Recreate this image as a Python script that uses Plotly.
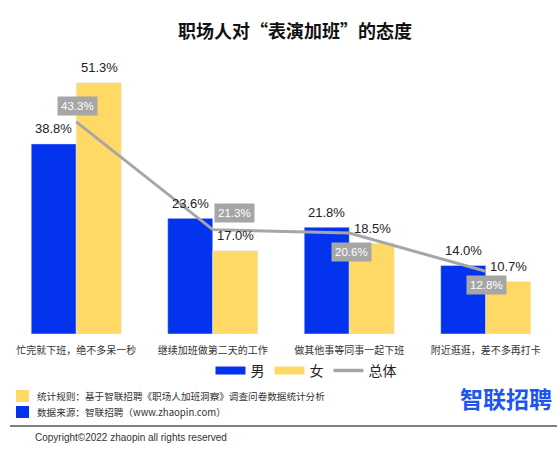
import plotly.graph_objects as go

categories = ["忙完就下班，绝不多呆一秒", "继续加班做第二天的工作", "做其他事等同事一起下班", "附近逛逛，差不多再打卡"]
male = [38.8, 23.6, 21.8, 14.0]
female = [51.3, 17.0, 18.5, 10.7]
total = [43.3, 21.3, 20.6, 12.8]
series_names = ["男", "女", "总体"]

BLUE = "#0433EE"
YELLOW = "#FFD966"
GRAY = "#A6A6A6"
CJK = "Noto Sans CJK SC"
LAT = "Liberation Sans"

W, H = 557, 450
ML, MR, MT, MB = 8, 3, 60, 116
PW, PH = W - ML - MR, H - MT - MB

def px_x(px):
    return (px - ML) / PW

def px_y(py):
    return (H - MB - py) / PH

fig = go.Figure()
fig.add_trace(go.Bar(x=categories, y=male, marker_color=BLUE, showlegend=False, name=series_names[0]))
fig.add_trace(go.Bar(x=categories, y=female, marker_color=YELLOW, showlegend=False, name=series_names[1]))
fig.add_trace(go.Scatter(x=categories, y=total, mode="lines", line=dict(color=GRAY, width=3),
                         showlegend=False, name=series_names[2]))
# legend entries
fig.add_trace(go.Scatter(x=[None], y=[None], mode="lines", line=dict(color=BLUE, width=8), name=series_names[0]))
fig.add_trace(go.Scatter(x=[None], y=[None], mode="lines", line=dict(color=YELLOW, width=8), name=series_names[1]))
fig.add_trace(go.Scatter(x=[None], y=[None], mode="lines", line=dict(color=GRAY, width=3.5), name=series_names[2]))

annotations = []
half = 22.75
for c, m, f in zip(categories, male, female):
    annotations.append(dict(x=c, y=m, xref="x", yref="y", text=f"{m:.1f}%", showarrow=False,
                            xshift=-half, yshift=15, font=dict(family=LAT, size=13, color="#222")))
    annotations.append(dict(x=c, y=f, xref="x", yref="y", text=f"{f:.1f}%", showarrow=False,
                            xshift=half, yshift=15, font=dict(family=LAT, size=13, color="#222")))
shifts = [(1, 16), (21.5, 17), (2, -19), (1, -14)]
for c, t, (dx, dy) in zip(categories, total, shifts):
    annotations.append(dict(x=c, y=t, xref="x", yref="y", text=f"{t:.1f}%", showarrow=False,
                            xshift=dx, yshift=dy, bgcolor=GRAY, borderpad=3,
                            font=dict(family=LAT, size=11.5, color="white")))

# footer texts
annotations.append(dict(x=px_x(35), y=px_y(396), xref="paper", yref="paper", xanchor="left", yanchor="middle",
                        text="统计规则：基于智联招聘《职场人加班洞察》调查问卷数据统计分析", showarrow=False,
                        font=dict(family=CJK, size=9.6, color="#333")))
annotations.append(dict(x=px_x(35), y=px_y(412), xref="paper", yref="paper", xanchor="left", yanchor="middle",
                        text="数据来源：智联招聘（www.zhaopin.com）", showarrow=False,
                        font=dict(family=CJK, size=9.6, color="#333")))
annotations.append(dict(x=px_x(33), y=px_y(437), xref="paper", yref="paper", xanchor="left", yanchor="middle",
                        text="Copyright©2022 zhaopin all rights reserved", showarrow=False,
                        font=dict(family=LAT, size=10, color="#333")))
annotations.append(dict(x=px_x(506), y=px_y(398), xref="paper", yref="paper", xanchor="center", yanchor="middle",
                        text="<b>智联招聘</b>", showarrow=False,
                        font=dict(family=CJK, size=23, color="#1C55F0")))

shapes = [
    dict(type="rect", xref="paper", yref="paper", x0=px_x(16), x1=px_x(29), y0=px_y(390), y1=px_y(402),
         fillcolor=YELLOW, line=dict(width=0)),
    dict(type="rect", xref="paper", yref="paper", x0=px_x(16), x1=px_x(29), y0=px_y(406), y1=px_y(418),
         fillcolor=BLUE, line=dict(width=0)),
    dict(type="line", xref="paper", yref="paper", x0=px_x(10), x1=px_x(557), y0=px_y(426), y1=px_y(426),
         line=dict(color="#555", width=1.5)),
]

fig.update_layout(
    width=W, height=H,
    margin=dict(l=ML, r=MR, t=MT, b=MB),
    paper_bgcolor="white", plot_bgcolor="white",
    barmode="group", bargap=0.34, bargroupgap=0,
    title=dict(text="<b>职场人对“表演加班”的态度</b>", x=295 / W, xanchor="center",
               y=1 - 32 / H, yanchor="middle", font=dict(family=CJK, size=18, color="#111")),
    xaxis=dict(showgrid=False, showline=False, ticks="", zeroline=False, ticklabelstandoff=9,
               tickfont=dict(family=CJK, size=10, color="#333")),
    yaxis=dict(range=[0, PH / 4.9], visible=False, showgrid=False, zeroline=False),
    legend=dict(orientation="h", x=px_x(306), xanchor="center", y=px_y(371), yanchor="middle",
                font=dict(family=CJK, size=14, color="#222"), itemwidth=30, tracegroupgap=0),
    annotations=annotations,
    shapes=shapes,
)

fig.write_html("out.html", config={"displayModeBar": False},
               post_script="document.body.style.margin='0';document.body.style.padding='0';"
                           "document.documentElement.style.overflow='hidden';")
